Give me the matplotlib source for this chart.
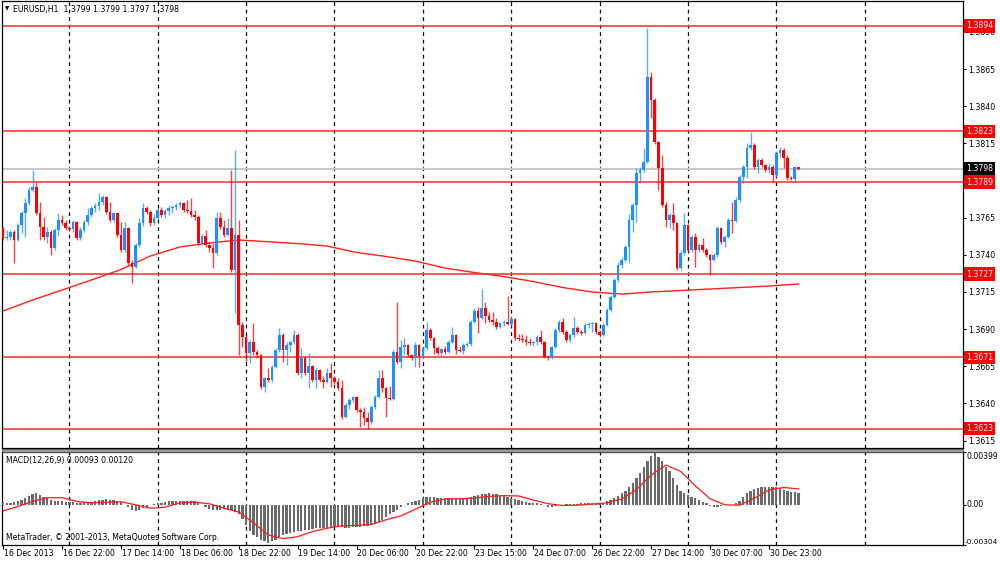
import numpy as np
import matplotlib
matplotlib.use('Agg')
from matplotlib import pyplot as plt
from matplotlib.patches import Rectangle

# EURUSD H1, bars 16 Dec 2013 06:00 .. 31 Dec 2013 06:00
first_open = 1.37581
closes = [
    1.37513, 1.37520, 1.37554, 1.37500, 1.37601, 1.37682, 1.37749, 1.37836, 1.37856, 1.37682,
    1.37587, 1.37520, 1.37554, 1.37446, 1.37567, 1.37634, 1.37614, 1.37581, 1.37574, 1.37621,
    1.37513, 1.37567, 1.37621, 1.37668, 1.37715, 1.37729, 1.37756, 1.37789, 1.37688, 1.37634,
    1.37682, 1.37533, 1.37433, 1.37581, 1.37345, 1.37318, 1.37466, 1.37614, 1.37715, 1.37688,
    1.37614, 1.37648, 1.37702, 1.37668, 1.37695, 1.37715, 1.37722, 1.37735, 1.37749, 1.37702,
    1.37695, 1.37668, 1.37655, 1.37480, 1.37527, 1.37466, 1.37446, 1.37412, 1.37648, 1.37587,
    1.37533, 1.37581, 1.37298, 1.37533, 1.36928, 1.36847, 1.36739, 1.36813, 1.36746, 1.36726,
    1.36510, 1.36571, 1.36558, 1.36645, 1.36759, 1.36860, 1.36759, 1.36793, 1.36813, 1.36860,
    1.36605, 1.36706, 1.36605, 1.36652, 1.36558, 1.36625, 1.36558, 1.36544, 1.36605, 1.36571,
    1.36544, 1.36504, 1.36309, 1.36389, 1.36423, 1.36443, 1.36356, 1.36342, 1.36302, 1.36275,
    1.36376, 1.36443, 1.36571, 1.36504, 1.36436, 1.36430, 1.36746, 1.36679, 1.36780, 1.36793,
    1.36726, 1.36706, 1.36793, 1.36719, 1.36773, 1.36894, 1.36840, 1.36773, 1.36739, 1.36766,
    1.36746, 1.36813, 1.36860, 1.36759, 1.36753, 1.36793, 1.36800, 1.36948, 1.37022, 1.36975,
    1.37042, 1.36988, 1.36961, 1.36948, 1.36914, 1.36941, 1.36948, 1.36934, 1.36968, 1.36840,
    1.36834, 1.36827, 1.36813, 1.36807, 1.36813, 1.36847, 1.36813, 1.36712, 1.36706, 1.36780,
    1.36894, 1.36948, 1.36881, 1.36827, 1.36860, 1.36908, 1.36881, 1.36874, 1.36928, 1.36934,
    1.36941, 1.36881, 1.36860, 1.36928, 1.37029, 1.37116, 1.37231, 1.37332, 1.37365, 1.37453,
    1.37634, 1.37735, 1.37951, 1.37971, 1.38025, 1.38597, 1.38442, 1.38159, 1.37984, 1.37735,
    1.37634, 1.37668, 1.37614, 1.37311, 1.37412, 1.37601, 1.37433, 1.37520, 1.37433, 1.37466,
    1.37433, 1.37399, 1.37365, 1.37399, 1.37581, 1.37486, 1.37520, 1.37634, 1.37628, 1.37769,
    1.37924, 1.37991, 1.38119, 1.38139, 1.37991, 1.38038, 1.38005, 1.37971, 1.37991, 1.37937,
    1.38085, 1.38106, 1.38052, 1.37917, 1.37910, 1.37990, 1.37980,
]
highs = [
    1.37587, 1.37567, 1.37567, 1.37567, 1.37614, 1.37695, 1.37782, 1.37856, 1.37971, 1.37890,
    1.37756, 1.37655, 1.37587, 1.37567, 1.37581, 1.37682, 1.37668, 1.37634, 1.37594, 1.37634,
    1.37628, 1.37587, 1.37634, 1.37715, 1.37729, 1.37749, 1.37816, 1.37803, 1.37796, 1.37756,
    1.37688, 1.37688, 1.37621, 1.37621, 1.37587, 1.37365, 1.37480, 1.37648, 1.37749, 1.37729,
    1.37702, 1.37675, 1.37715, 1.37722, 1.37708, 1.37735, 1.37735, 1.37749, 1.37762, 1.37756,
    1.37769, 1.37782, 1.37702, 1.37668, 1.37540, 1.37567, 1.37486, 1.37480, 1.37688, 1.37688,
    1.37634, 1.37648, 1.37971, 1.38106, 1.37634, 1.36948, 1.36860, 1.36827, 1.36941, 1.36759,
    1.36732, 1.36578, 1.36638, 1.36659, 1.36773, 1.36908, 1.36874, 1.36813, 1.36827, 1.36894,
    1.36874, 1.36773, 1.36712, 1.36739, 1.36659, 1.36638, 1.36632, 1.36585, 1.36638, 1.36672,
    1.36585, 1.36571, 1.36558, 1.36403, 1.36436, 1.36450, 1.36450, 1.36369, 1.36376, 1.36342,
    1.36389, 1.36457, 1.36625, 1.36625, 1.36510, 1.36517, 1.36759, 1.37083, 1.36827, 1.36840,
    1.36800, 1.36732, 1.36813, 1.36800, 1.36786, 1.36948, 1.36908, 1.36847, 1.36786, 1.36773,
    1.36786, 1.36827, 1.36914, 1.36867, 1.36786, 1.36807, 1.36813, 1.36961, 1.37042, 1.37049,
    1.37170, 1.37083, 1.37015, 1.37015, 1.36975, 1.36948, 1.36961, 1.37123, 1.36982, 1.36975,
    1.36867, 1.36867, 1.36860, 1.36840, 1.36820, 1.36860, 1.36894, 1.36820, 1.36726, 1.36786,
    1.36908, 1.36961, 1.36975, 1.36894, 1.36874, 1.36982, 1.36921, 1.36894, 1.36941, 1.36948,
    1.36948, 1.36948, 1.36894, 1.36941, 1.37042, 1.37130, 1.37244, 1.37352, 1.37385, 1.37466,
    1.37675, 1.37749, 1.37984, 1.37991, 1.38119, 1.38927, 1.38630, 1.38455, 1.38166, 1.38072,
    1.37756, 1.37682, 1.37749, 1.37621, 1.37433, 1.37682, 1.37608, 1.37533, 1.37547, 1.37480,
    1.37513, 1.37446, 1.37406, 1.37412, 1.37594, 1.37587, 1.37533, 1.37648, 1.37756, 1.37789,
    1.37937, 1.38005, 1.38153, 1.38227, 1.38153, 1.38052, 1.38052, 1.38011, 1.38018, 1.38005,
    1.38099, 1.38126, 1.38119, 1.38072, 1.37930, 1.37996, 1.37990,
]
lows = [
    1.37500, 1.37500, 1.37500, 1.37345, 1.37493, 1.37547, 1.37520, 1.37735, 1.37823, 1.37668,
    1.37500, 1.37500, 1.37480, 1.37399, 1.37433, 1.37527, 1.37601, 1.37567, 1.37560, 1.37554,
    1.37500, 1.37500, 1.37554, 1.37601, 1.37655, 1.37688, 1.37702, 1.37735, 1.37675, 1.37621,
    1.37621, 1.37520, 1.37419, 1.37419, 1.37332, 1.37210, 1.37311, 1.37453, 1.37594, 1.37675,
    1.37594, 1.37601, 1.37634, 1.37655, 1.37648, 1.37668, 1.37682, 1.37702, 1.37715, 1.37688,
    1.37682, 1.37655, 1.37634, 1.37466, 1.37466, 1.37453, 1.37419, 1.37311, 1.37399, 1.37574,
    1.37520, 1.37527, 1.37284, 1.37008, 1.36726, 1.36780, 1.36679, 1.36672, 1.36726, 1.36706,
    1.36497, 1.36477, 1.36544, 1.36544, 1.36638, 1.36746, 1.36679, 1.36659, 1.36746, 1.36800,
    1.36591, 1.36571, 1.36591, 1.36504, 1.36544, 1.36504, 1.36544, 1.36504, 1.36537, 1.36510,
    1.36531, 1.36490, 1.36295, 1.36302, 1.36362, 1.36409, 1.36342, 1.36241, 1.36255, 1.36228,
    1.36262, 1.36362, 1.36436, 1.36477, 1.36309, 1.36423, 1.36423, 1.36665, 1.36638, 1.36726,
    1.36712, 1.36692, 1.36645, 1.36645, 1.36712, 1.36759, 1.36827, 1.36732, 1.36726, 1.36712,
    1.36732, 1.36739, 1.36807, 1.36732, 1.36746, 1.36732, 1.36780, 1.36786, 1.36941, 1.36874,
    1.36968, 1.36941, 1.36948, 1.36928, 1.36901, 1.36908, 1.36921, 1.36928, 1.36921, 1.36827,
    1.36820, 1.36813, 1.36793, 1.36793, 1.36786, 1.36793, 1.36800, 1.36706, 1.36692, 1.36699,
    1.36773, 1.36881, 1.36867, 1.36813, 1.36813, 1.36847, 1.36867, 1.36860, 1.36867, 1.36908,
    1.36881, 1.36867, 1.36847, 1.36854, 1.36921, 1.37015, 1.37109, 1.37217, 1.37311, 1.37352,
    1.37345, 1.37554, 1.37621, 1.37883, 1.37957, 1.38018, 1.38321, 1.38146, 1.37836, 1.37722,
    1.37587, 1.37581, 1.37567, 1.37298, 1.37298, 1.37399, 1.37419, 1.37419, 1.37318, 1.37419,
    1.37419, 1.37385, 1.37264, 1.37358, 1.37385, 1.37473, 1.37453, 1.37513, 1.37547, 1.37621,
    1.37756, 1.37883, 1.37917, 1.38106, 1.37978, 1.37951, 1.37991, 1.37957, 1.37951, 1.37890,
    1.37924, 1.38058, 1.37984, 1.37904, 1.37904, 1.37890, 1.37970,
]

# moving average (red curve), read every 8 bars
ma_bar = [0, 8, 16, 24, 32, 40, 48, 56, 64, 72, 80, 88, 96, 104,
          112, 120, 128, 136, 144, 152, 160, 168, 176, 184, 192, 200, 208, 216]
ma_val = [1.37022, 1.37096, 1.37163, 1.37231, 1.37301, 1.37392, 1.37453, 1.37480,
          1.37500, 1.37488, 1.37476, 1.37459, 1.37416, 1.37389, 1.37358, 1.37311,
          1.37281, 1.37254, 1.37220, 1.37180, 1.37150, 1.37136, 1.37150, 1.37160,
          1.37170, 1.37180, 1.37190, 1.37204]

# MACD(12,26,9) main histogram, in 1e-5
macd_main = [
    13, 13, 15, 18, 26, 36, 51, 69, 82, 87,
    77, 61, 49, 38, 31, 28, 26, 23, 20, 18,
    15, 15, 18, 18, 20, 26, 33, 38, 41, 38,
    36, 28, 18, 0, -20, -41, -46, -41, -26, -15,
    -3, 5, 10, 15, 20, 26, 28, 31, 31, 31,
    31, 31, 26, 15, 0, -15, -28, -41, -41, -36,
    -33, -36, -41, -51, -72, -110, -154, -195, -225, -246,
    -264, -276, -285, -276, -264, -246, -230, -220, -212, -205,
    -200, -195, -189, -187, -184, -179, -177, -174, -172, -169,
    -166, -164, -169, -172, -172, -169, -166, -164, -161, -159,
    -154, -143, -131, -113, -92, -72, -56, -41, -15, -3,
    10, 18, 28, 38, 49, 56, 59, 56, 54, 51,
    51, 51, 54, 54, 51, 51, 51, 56, 64, 72,
    79, 84, 87, 84, 79, 72, 64, 56, 49, 41,
    33, 26, 20, 15, 13, 10, 5, -5, -13, -15,
    -10, -3, 2, 3, 3, 3, 5, 10, 10, 13,
    13, 13, 10, 15, 26, 36, 51, 69, 87, 108,
    133, 164, 205, 241, 282, 333, 369, 395, 364, 333,
    287, 256, 205, 151, 108, 87, 74, 61, 49, 36,
    23, 10, -8, -18, -15, -10, -3, 1, 1, 10,
    31, 56, 87, 108, 120, 128, 133, 138, 136, 133,
    131, 125, 115, 105, 97, 95, 93,
]
# signal line, read every 4 bars, in 1e-5
sig_bar = list(range(0, 217, 4))
sig_val = [-46, -13, 26, 54, 54, 26, 15, 20, 23, 0, -26, -18, 15, 20, 8, -26,
           -54, -136, -228, -256, -241, -202, -177, -159, -156, -148, -113, -84,
           -33, 20, 44, 46, 51, 64, 69, 67, 36, 8, -5, -3, 5, 15, 44, 115, 225,
           300, 253, 143, 46, 0, -3, 49, 113, 131, 120]

levels = [1.3894, 1.3823, 1.3789, 1.3727, 1.3671, 1.3623]
bid = 1.3798
price_ticks = [1.3615, 1.3640, 1.3665, 1.3690, 1.3715, 1.3740, 1.3765,
               1.3790, 1.3815, 1.3840, 1.3865, 1.3890]
macd_top, macd_bot = 0.00399, -0.00304
label_bars = [0, 16, 32, 48, 64, 80, 96, 112, 128, 144, 160, 176, 192, 208]
date_labels = ['16 Dec 2013', '16 Dec 22:00', '17 Dec 14:00', '18 Dec 06:00',
               '18 Dec 22:00', '19 Dec 14:00', '20 Dec 06:00', '20 Dec 22:00',
               '23 Dec 15:00', '24 Dec 07:00', '26 Dec 22:00', '27 Dec 14:00',
               '30 Dec 07:00', '30 Dec 23:00']
grid_bars = [18, 42, 66, 90, 114, 138, 162, 186, 210, 234]

FS = 5.6
plt.rcParams['font.family'] = ['DejaVu Sans']

c = np.array(closes)
h = np.array(highs)
l = np.array(lows)
o = np.r_[first_open, c[:-1]]   # H1 forex bars open at the previous close
x = np.arange(len(c))
up = c >= o
col = np.where(up, '#1e90ff', '#ff0000')

fig = plt.figure(figsize=(10, 5.62), dpi=100)
ax = fig.add_axes([0.002, 0.2028, 0.961, 0.7954])
ax2 = fig.add_axes([0.002, 0.0302, 0.961, 0.1655])
xlim = (-0.3, 260.7)

# main price window
for g in grid_bars:
    ax.axvline(g, color='black', lw=0.9, ls=(0, (3, 3)), zorder=1)
ax.axhline(bid, color='#c8c8c8', lw=1.4, zorder=1)
for lv in levels:
    ax.axhline(lv, color='#ff3b3b', lw=1.2, zorder=2)
ax.plot(ma_bar, ma_val, color='#ff2020', lw=1.0, zorder=3)
ax.vlines(x, l, h, colors=col, lw=1.0, alpha=0.75, zorder=4)
body = np.maximum(np.abs(c - o), 0.000025)
ax.bar(x, body, bottom=np.minimum(o, c), width=0.72, color=col, lw=0, zorder=5)

ax.set_xlim(*xlim)
ax.set_ylim(1.36100, 1.39108)
ax.set_xticks([])
ax.yaxis.tick_right()
ax.set_yticks(price_ticks)
ax.set_yticklabels(['%.4f' % t for t in price_ticks])
ax.tick_params(axis='y', length=2, width=0.8, pad=1.5, labelsize=FS)

ytr = ax.get_yaxis_transform()
for lv in levels:
    ax.text(1.0032, lv, '%.4f' % lv, transform=ytr, fontsize=FS, color='white',
            va='center', ha='left', zorder=10, clip_on=False,
            bbox=dict(boxstyle='square,pad=0.28', fc='#ff0000', ec='none'))
ax.text(1.0032, bid, '%.4f' % bid, transform=ytr, fontsize=FS, color='white',
        va='center', ha='left', zorder=10, clip_on=False,
        bbox=dict(boxstyle='square,pad=0.28', fc='black', ec='none'))

ax.text(0.003, 0.982, '\u25bc', transform=ax.transAxes, fontsize=4, va='center', ha='left')
ax.text(0.0115, 0.982, 'EURUSD,H1  1.3799 1.3799 1.3797 1.3798', transform=ax.transAxes,
        fontsize=FS, va='center', ha='left')

# MACD window
for g in grid_bars:
    ax2.axvline(g, color='black', lw=0.9, ls=(0, (3, 3)), zorder=1)
mv = np.array(macd_main) * 1e-5
ax2.bar(x, mv, width=0.62, color='#6a6a6a', lw=0, zorder=3)
ax2.plot(sig_bar, np.array(sig_val) * 1e-5, color='#ff1a1a', lw=0.9, zorder=4)
ax2.set_xlim(*xlim)
ax2.set_ylim(macd_bot, macd_top)
ax2.yaxis.tick_right()
ax2.set_yticks([macd_bot, 0.0, macd_top])
ax2.set_yticklabels([])
ax2.tick_params(axis='y', length=2, width=0.8)
ytr2 = ax2.get_yaxis_transform()
ax2.text(1.0035, macd_top, '%.5f' % macd_top, transform=ytr2, fontsize=FS,
         va='top', ha='left', clip_on=False)
ax2.text(1.0035, 0.0, '0.00', transform=ytr2, fontsize=FS,
         va='center', ha='left', clip_on=False)
ax2.text(1.0012, macd_bot, '%.5f' % macd_bot, transform=ytr2, fontsize=5.3,
         va='bottom', ha='left', clip_on=False)

ax2.set_xticks(label_bars)
ax2.set_xticklabels([])
ax2.tick_params(axis='x', length=3, width=0.8, direction='out')
xtr = ax2.get_xaxis_transform()
for b, s in zip(label_bars, date_labels):
    ax2.text(b + 0.2, -0.09, s, transform=xtr, fontsize=FS, va='center', ha='left',
             clip_on=False)

ax2.text(0.004, 0.905, 'MACD(12,26,9) 0.00093 0.00120', transform=ax2.transAxes,
         fontsize=FS, va='center', ha='left')
ax2.text(0.004, 0.085, 'MetaTrader, \u00a9 2001-2013, MetaQuotes Software Corp.',
         transform=ax2.transAxes, fontsize=FS, va='center', ha='left', zorder=6)

for a in (ax, ax2):
    for sp in a.spines.values():
        sp.set_color('black')
        sp.set_linewidth(0.9)

# separator between the two windows
fig.patches.append(Rectangle((0.002, 1 - 452 / 562), 0.961, 3.5 / 562,
                             transform=fig.transFigure, fc='#9a9a9a', ec='#505050',
                             lw=0.6))

fig.savefig('out.png', dpi=100, facecolor='white')
